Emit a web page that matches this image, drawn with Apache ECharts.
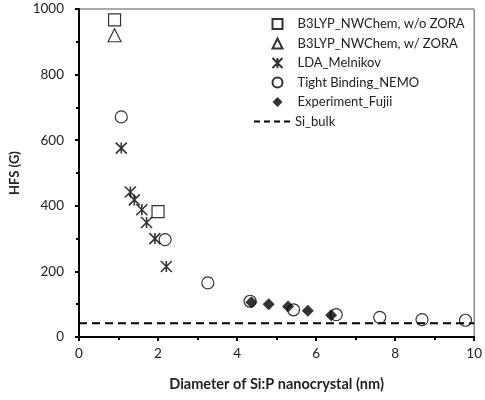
<!DOCTYPE html>
<html>
<head>
<meta charset="utf-8">
<script src="https://cdn.jsdelivr.net/npm/echarts@6/dist/echarts.min.js"></script>
<style>
    html, body { margin: 0; padding: 0; background: #fff; }
    #chart { width: 485px; height: 400px; }
</style>
</head>
<body>
<div id="chart"></div>
<script>
// B3LYP NWChem, without ZORA
let b3lypNoZoraX = [0.9, 2.0];
let b3lypNoZoraY = [967, 382];
// B3LYP NWChem, with ZORA
let b3lypZoraX = [0.9];
let b3lypZoraY = [920];
// LDA Melnikov
let ldaX = [1.07, 1.3, 1.4, 1.59, 1.71, 1.92, 2.21];
let ldaY = [576, 442, 418, 388, 349, 300, 215];
// Tight binding NEMO
let nemoX = [1.07, 2.18, 3.26, 4.33, 5.43, 6.51, 7.61, 8.68, 9.78];
let nemoY = [671, 297, 165, 109, 83, 68, 60, 53, 51];
// Experiment Fujii
let fujiiX = [4.36, 4.8, 5.29, 5.79, 6.38];
let fujiiY = [106, 100, 93, 80, 66];
// Si bulk reference
let bulkX = [0, 10];
let bulkY = [42, 42];

let xTicks = [0, 2, 4, 6, 8, 10];
let yTicks = [0, 200, 400, 600, 800, 1000];

function pairs(xs, ys) {
    let out = [];
    for (let i = 0; i < xs.length; i++) {
        out.push([xs[i], ys[i]]);
    }
    return out;
}

let starPath = 'path://M0,0L10,10M10,0L0,10M5,0L5,10';
let dashIcon = 'path://M0,0h6v2h-6zM10,0h6v2h-6zM20,0h6v2h-6zM30,0h6v2h-6z';
let fontName = 'Lato, "Open Sans", sans-serif';
let hollow = {color: '#fff', borderColor: '#000', borderWidth: 1.2};
let legendText = {fontSize: 13, lineHeight: 16, color: '#222', fontFamily: fontName, padding: [0, 0, 0, 10]};

let chart = echarts.init(document.getElementById('chart'));

let option = {
    animation: false,
    textStyle: {fontFamily: fontName},
    grid: {left: 79, right: 7, top: 9, bottom: 63, show: true, borderColor: '#555', borderWidth: 1},
    legend: [
        {
            orient: 'vertical',
            left: 270,
            top: 16,
            padding: 0,
            itemWidth: 10,
            itemHeight: 10,
            itemGap: 3.5,
            textStyle: legendText,
            data: ['B3LYP_NWChem, w/o ZORA', 'B3LYP_NWChem, w/ ZORA', 'LDA_Melnikov', 'Tight Binding_NEMO', 'Experiment_Fujii']
        },
        {
            orient: 'vertical',
            left: 254,
            top: 113.5,
            padding: 0,
            itemWidth: 36,
            itemHeight: 10,
            textStyle: {fontSize: 13, lineHeight: 16, color: '#222', fontFamily: fontName},
            data: [{name: 'Si_bulk', icon: dashIcon, itemStyle: {color: '#000'}}]
        }
    ],
    xAxis: {
        type: 'value',
        min: 0,
        max: 10,
        interval: 2,
        name: 'Diameter of Si:P nanocrystal (nm)',
        nameLocation: 'middle',
        nameGap: 40,
        nameTextStyle: {fontSize: 14.5, fontWeight: 'bold', color: '#222'},
        axisLine: {lineStyle: {color: '#000', width: 2}},
        axisTick: {show: true, length: 4, lineStyle: {color: '#000', width: 2}},
        minorTick: {show: true, splitNumber: 2, length: 3, lineStyle: {color: '#000', width: 2}},
        axisLabel: {
            fontSize: 13.5, color: '#222', margin: 10,
            formatter: function (v) { return xTicks.indexOf(v) >= 0 ? String(v) : ''; }
        },
        splitLine: {show: false}
    },
    yAxis: {
        type: 'value',
        min: 0,
        max: 1000,
        interval: 200,
        name: 'HFS (G)',
        nameLocation: 'middle',
        nameGap: 56,
        nameTextStyle: {fontSize: 13, fontWeight: 'bold', color: '#222'},
        axisLine: {lineStyle: {color: '#000', width: 2}},
        axisTick: {show: true, length: 4, lineStyle: {color: '#000', width: 2}},
        minorTick: {show: true, splitNumber: 2, length: 3, lineStyle: {color: '#000', width: 2}},
        axisLabel: {
            fontSize: 13.5, color: '#222', margin: 15,
            formatter: function (v) { return yTicks.indexOf(v) >= 0 ? String(v) : ''; }
        },
        splitLine: {show: false}
    },
    series: [
        {
            name: 'Si_bulk',
            type: 'line',
            symbol: 'none',
            data: pairs(bulkX, bulkY),
            lineStyle: {color: '#000', width: 2, type: [8, 5]},
            itemStyle: {color: '#000'},
            z: 1
        },
        {
            name: 'B3LYP_NWChem, w/o ZORA',
            type: 'scatter',
            symbol: 'rect',
            symbolSize: 12,
            itemStyle: hollow,
            data: pairs(b3lypNoZoraX, b3lypNoZoraY)
        },
        {
            name: 'B3LYP_NWChem, w/ ZORA',
            type: 'scatter',
            symbol: 'triangle',
            symbolSize: 13,
            itemStyle: hollow,
            data: pairs(b3lypZoraX, b3lypZoraY)
        },
        {
            name: 'LDA_Melnikov',
            type: 'scatter',
            symbol: starPath,
            symbolSize: 11,
            itemStyle: {color: 'none', borderColor: '#000', borderWidth: 1.6},
            data: pairs(ldaX, ldaY)
        },
        {
            name: 'Tight Binding_NEMO',
            type: 'scatter',
            symbol: 'circle',
            symbolSize: 12,
            itemStyle: {color: 'rgba(255,255,255,0)', borderColor: '#000', borderWidth: 1.2},
            data: pairs(nemoX, nemoY)
        },
        {
            name: 'Experiment_Fujii',
            type: 'scatter',
            symbol: 'diamond',
            symbolSize: 12,
            itemStyle: {color: '#000'},
            data: pairs(fujiiX, fujiiY)
        }
    ]
};

chart.setOption(option);
</script>
</body>
</html>
